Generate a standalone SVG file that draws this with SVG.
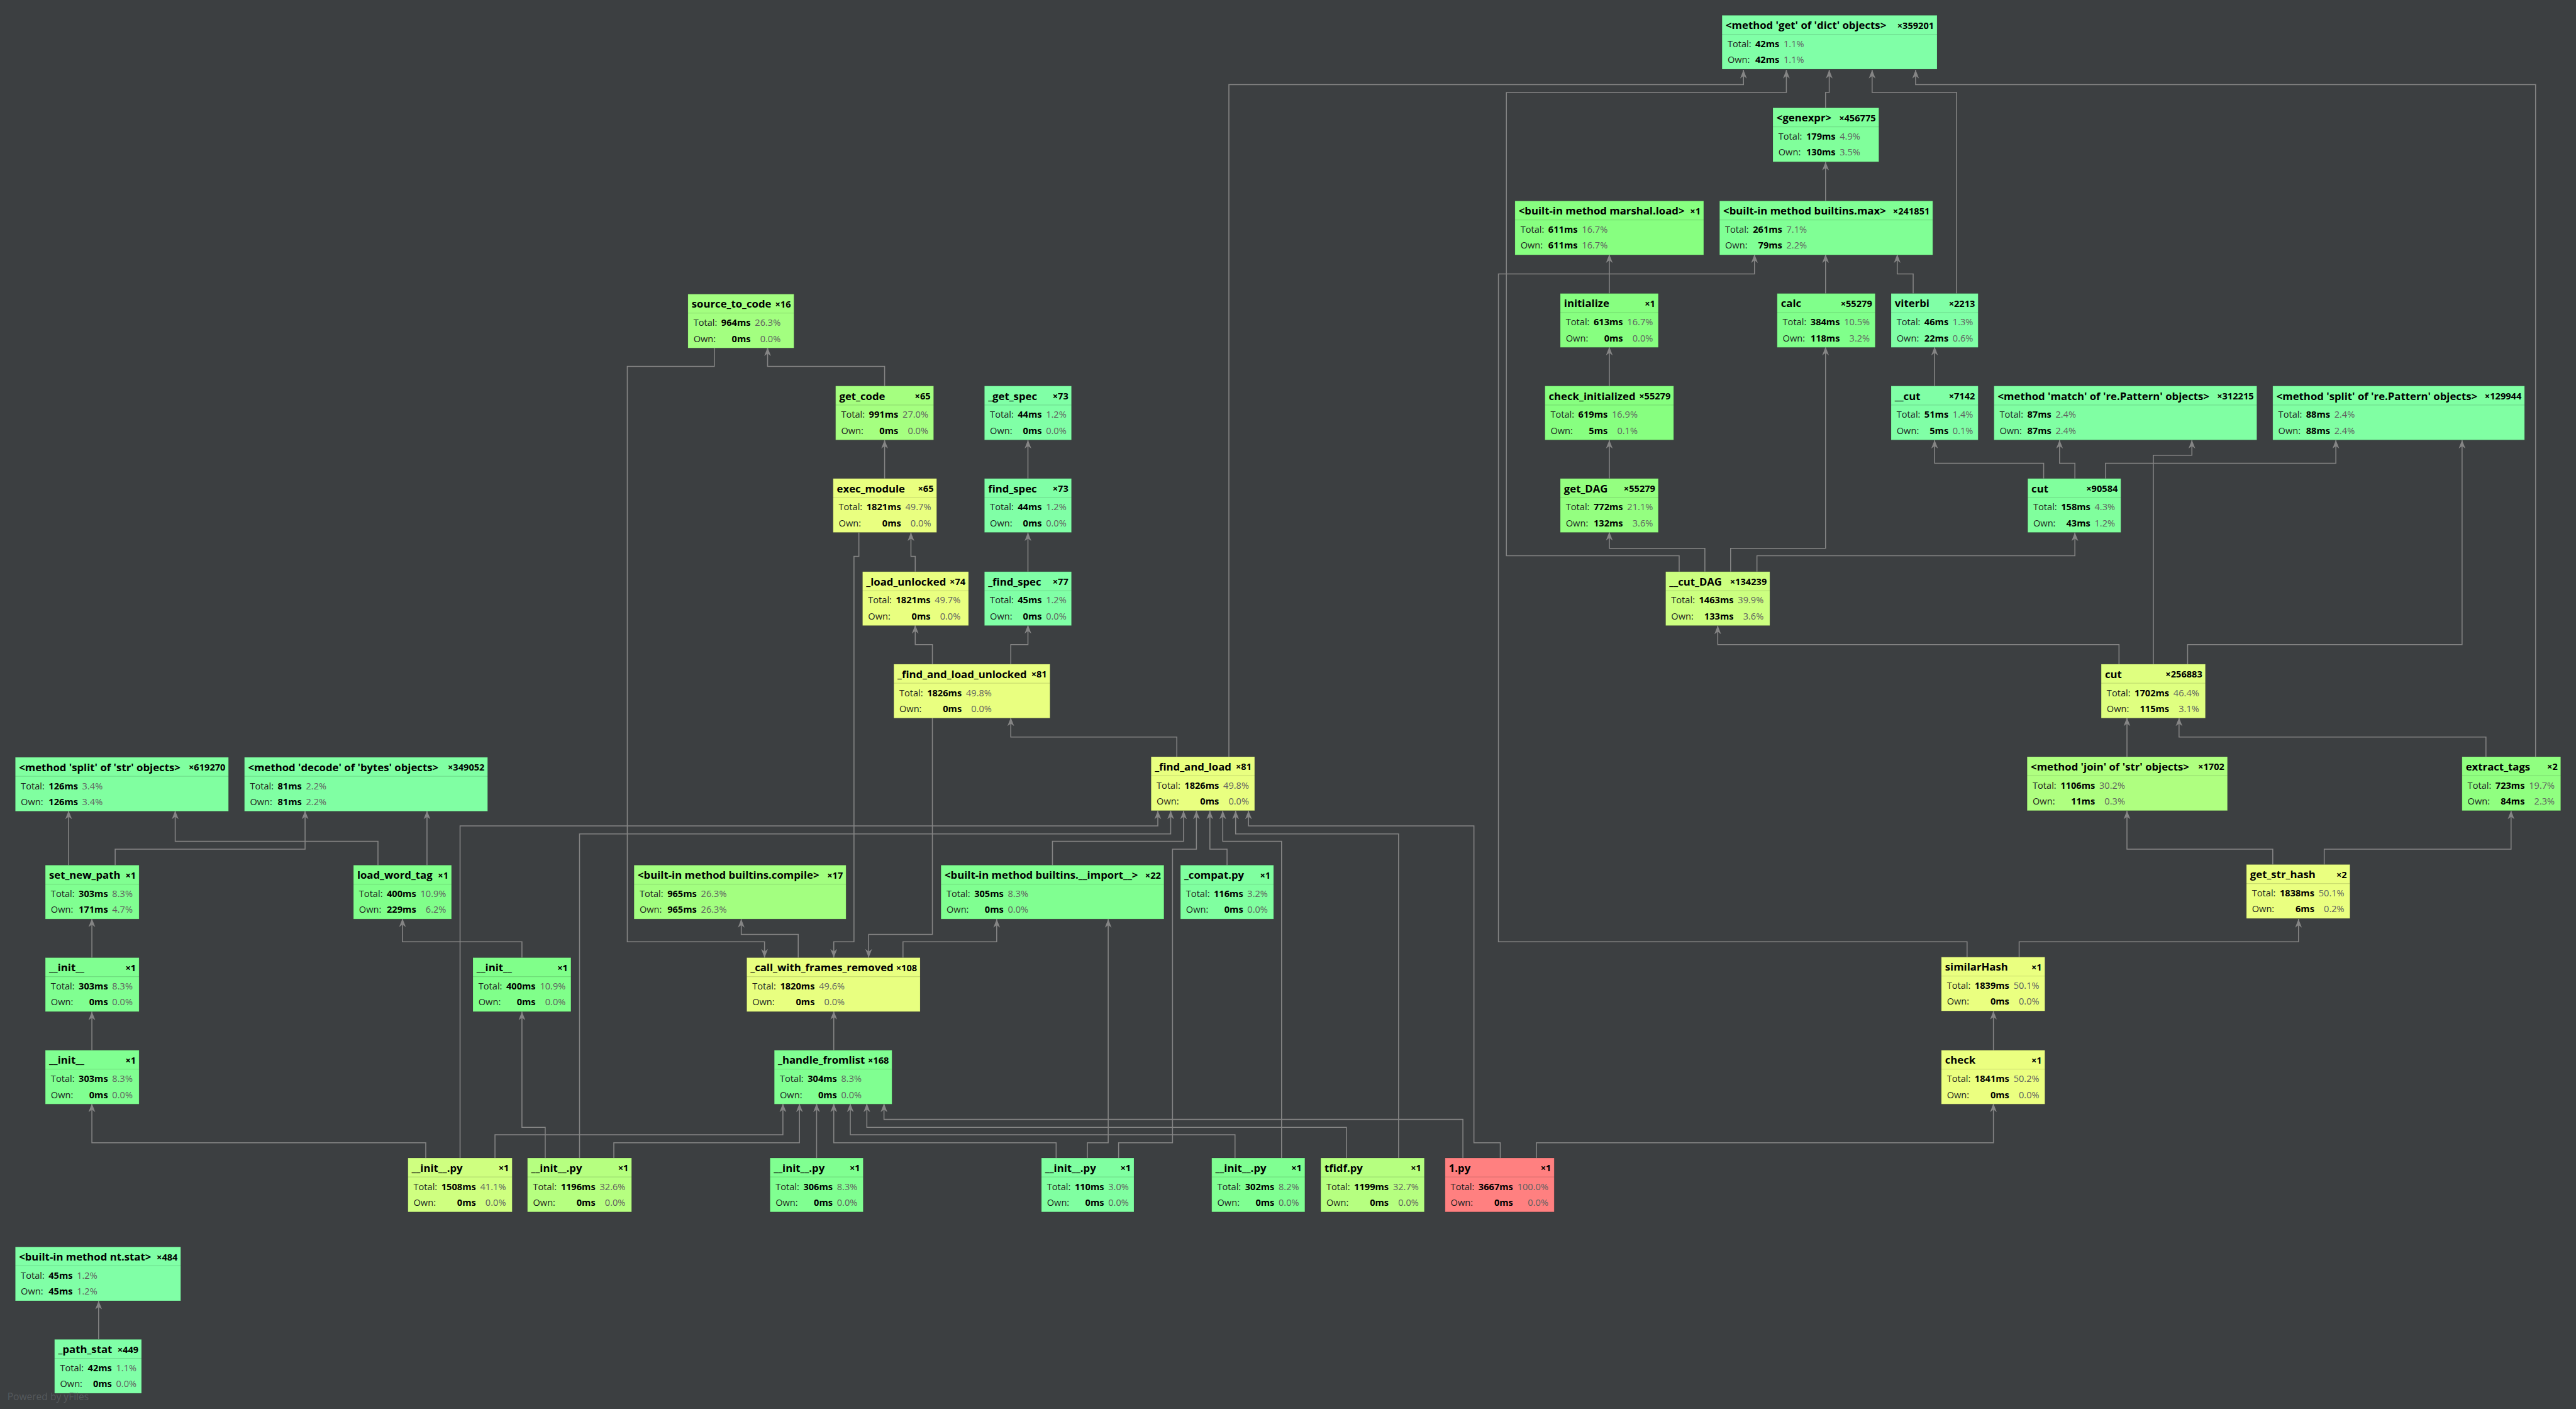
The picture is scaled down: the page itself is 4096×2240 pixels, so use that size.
<svg xmlns="http://www.w3.org/2000/svg" width="4096" height="2240" viewBox="0 0 4096 2240">
<defs>
<style>
.bg{fill:#3c3f41}
.e{fill:none;stroke:#858585;stroke-width:1.6;marker-end:url(#ah)}
.s{stroke:rgba(0,0,0,0.13);stroke-width:1.2;fill:none}
.nb{stroke:rgba(0,0,0,0.12);stroke-width:1}
text{font-family:"Open Sans","Noto Sans","Liberation Sans",sans-serif}
.t{font-size:17.2px;font-weight:bold;fill:#000}
.c{font-size:15px;font-weight:bold;fill:#000;text-anchor:end}
.l{font-size:15px;fill:#1e1e1e}
.v{font-size:15px;font-weight:bold;fill:#000;text-anchor:end}
.p{font-size:15px;fill:#606060;text-anchor:end}
.pw{font-size:16px;fill:#55595c}
</style>
<marker id="ah" markerWidth="16" markerHeight="12" viewBox="-15 -6 16 12" refX="0" refY="0" orient="auto" markerUnits="userSpaceOnUse"><path d="M0,0 L-14,-5.5 L-10,0 L-14,5.5 Z" fill="#858585"/></marker>
</defs>
<rect class="bg" x="0" y="0" width="4096" height="2240"/>
<g transform="scale(0.97408)">
<g id="connectors">
<path class="e" d="M1444,630 V598 H1253 V567"/>
<path class="e" d="M1166,567 V598 H1024 V1537 H1248 V1563"/>
<path class="e" d="M1444,781 V718"/>
<path class="e" d="M1494,933 V908 H1487 V869"/>
<path class="e" d="M1402,869 V908 H1394 V1537 H1361 V1563"/>
<path class="e" d="M1522,1084 V1052 H1494 V1020"/>
<path class="e" d="M1650,1084 V1052 H1678 V1020"/>
<path class="e" d="M1678,933 V869"/>
<path class="e" d="M1678,781 V718"/>
<path class="e" d="M1921,1235 V1203 H1650 V1171"/>
<path class="e" d="M1522,1171 V1525 H1418 V1563"/>
<path class="e" d="M2006,1235 V138 H2846 V114"/>
<path class="e" d="M751,1890 V1348 H1890 V1323"/>
<path class="e" d="M946,1890 V1361 H1911 V1323"/>
<path class="e" d="M1718,1412 V1373 H1932 V1323"/>
<path class="e" d="M1826,1890 V1865 H1914 V1386 H1953 V1323"/>
<path class="e" d="M2003,1412 V1386 H1975 V1323"/>
<path class="e" d="M2092,1890 V1373 H1996 V1323"/>
<path class="e" d="M2283,1890 V1361 H2017 V1323"/>
<path class="e" d="M2449,1890 V1865 H2406 V1348 H2038 V1323"/>
<path class="e" d="M2388,1890 V1827 H1443 V1801"/>
<path class="e" d="M2508,1890 V1865 H3254 V1801"/>
<path class="e" d="M2198,1890 V1840 H1415 V1801"/>
<path class="e" d="M2016,1890 V1852 H1388 V1801"/>
<path class="e" d="M1724,1890 V1865 H1361 V1801"/>
<path class="e" d="M1333,1890 V1801"/>
<path class="e" d="M1002,1890 V1865 H1305 V1801"/>
<path class="e" d="M808,1890 V1852 H1278 V1801"/>
<path class="e" d="M1775,1890 V1865 H1809 V1500"/>
<path class="e" d="M1361,1714 V1650"/>
<path class="e" d="M1303,1563 V1525 H1210 V1500"/>
<path class="e" d="M1474,1563 V1537 H1627 V1500"/>
<path class="e" d="M695,1890 V1865 H150 V1801"/>
<path class="e" d="M890,1890 V1840 H852 V1651"/>
<path class="e" d="M852,1563 V1537 H657 V1499"/>
<path class="e" d="M150,1714 V1651"/>
<path class="e" d="M150,1563 V1499"/>
<path class="e" d="M112,1412 V1323"/>
<path class="e" d="M188,1412 V1386 H498 V1323"/>
<path class="e" d="M617,1412 V1373 H286 V1323"/>
<path class="e" d="M697,1412 V1323"/>
<path class="e" d="M161,2186 V2123"/>
<path class="e" d="M2980,176 V151 H2986 V114"/>
<path class="e" d="M2980,328 V264"/>
<path class="e" d="M2627,479 V415"/>
<path class="e" d="M2980,479 V415"/>
<path class="e" d="M3123,479 V447 H3097 V415"/>
<path class="e" d="M3194,479 V151 H3056 V114"/>
<path class="e" d="M3158,630 V566"/>
<path class="e" d="M2627,630 V566"/>
<path class="e" d="M2627,781 V718"/>
<path class="e" d="M2783,933 V895 H2627 V868"/>
<path class="e" d="M2825,933 V895 H2980 V566"/>
<path class="e" d="M2741,933 V907 H2459 V151 H2916 V114"/>
<path class="e" d="M2868,933 V907 H3387 V869"/>
<path class="e" d="M3336,781 V756 H3158 V718"/>
<path class="e" d="M3387,781 V756 H3362 V718"/>
<path class="e" d="M3437,781 V756 H3813 V718"/>
<path class="e" d="M3459,1084 V1052 H2804 V1021"/>
<path class="e" d="M3515,1084 V743 H3578 V718"/>
<path class="e" d="M3571,1084 V1052 H4019 V718"/>
<path class="e" d="M4139,1235 V138 H3127 V114"/>
<path class="e" d="M3472,1235 V1171"/>
<path class="e" d="M4058,1235 V1203 H3557 V1171"/>
<path class="e" d="M3710,1411 V1386 H3472 V1323"/>
<path class="e" d="M3794,1411 V1386 H4099 V1323"/>
<path class="e" d="M3296,1562 V1537 H3752 V1500"/>
<path class="e" d="M3211,1562 V1537 H2446 V447 H2864 V415"/>
<path class="e" d="M3254,1714 V1650"/>
</g>

<g id="n_dict_get" transform="translate(2811,25)"><rect class="nb" width="351" height="88" fill="#80FFA7"/><path class="s" d="M0 31H351"/><text class="t" x="6" y="22.5">&lt;method 'get' of 'dict' objects&gt;</text><text class="c" x="346" y="22">×359201</text><text class="l" x="9" y="52">Total:</text><text class="v" x="93.6" y="52">42ms</text><text class="p" x="133.9" y="52">1.1%</text><text class="l" x="9" y="78">Own:</text><text class="v" x="93.6" y="78">42ms</text><text class="p" x="133.9" y="78">1.1%</text></g>

<g id="n_genexpr" transform="translate(2894,176)"><rect class="nb" width="173" height="88" fill="#80FF9B"/><path class="s" d="M0 31H173"/><text class="t" x="6" y="22.5">&lt;genexpr&gt;</text><text class="c" x="168" y="22">×456775</text><text class="l" x="9" y="52">Total:</text><text class="v" x="102.3" y="52">179ms</text><text class="p" x="142.6" y="52">4.9%</text><text class="l" x="9" y="78">Own:</text><text class="v" x="102.3" y="78">130ms</text><text class="p" x="142.6" y="78">3.5%</text></g>

<g id="n_marshal_load" transform="translate(2473,328)"><rect class="nb" width="308" height="88" fill="#87FF80"/><path class="s" d="M0 31H308"/><text class="t" x="6" y="22.5">&lt;built-in method marshal.load&gt;</text><text class="c" x="303" y="22">×1</text><text class="l" x="9" y="52">Total:</text><text class="v" x="102.3" y="52">611ms</text><text class="p" x="151.3" y="52">16.7%</text><text class="l" x="9" y="78">Own:</text><text class="v" x="102.3" y="78">611ms</text><text class="p" x="151.3" y="78">16.7%</text></g>

<g id="n_builtins_max" transform="translate(2807,328)"><rect class="nb" width="348" height="88" fill="#80FF95"/><path class="s" d="M0 31H348"/><text class="t" x="6" y="22.5">&lt;built-in method builtins.max&gt;</text><text class="c" x="343" y="22">×241851</text><text class="l" x="9" y="52">Total:</text><text class="v" x="102.3" y="52">261ms</text><text class="p" x="142.6" y="52">7.1%</text><text class="l" x="9" y="78">Own:</text><text class="v" x="102.3" y="78">79ms</text><text class="p" x="142.6" y="78">2.2%</text></g>

<g id="n_source_to_code" transform="translate(1123,480)"><rect class="nb" width="173" height="88" fill="#A3FF80"/><path class="s" d="M0 31H173"/><text class="t" x="6" y="22.5">source_to_code</text><text class="c" x="168" y="22">×16</text><text class="l" x="9" y="52">Total:</text><text class="v" x="102.3" y="52">964ms</text><text class="p" x="151.3" y="52">26.3%</text><text class="l" x="9" y="78">Own:</text><text class="v" x="102.3" y="78">0ms</text><text class="p" x="151.3" y="78">0.0%</text></g>

<g id="n_initialize" transform="translate(2547,479)"><rect class="nb" width="160" height="88" fill="#87FF80"/><path class="s" d="M0 31H160"/><text class="t" x="6" y="22.5">initialize</text><text class="c" x="155" y="22">×1</text><text class="l" x="9" y="52">Total:</text><text class="v" x="102.3" y="52">613ms</text><text class="p" x="151.3" y="52">16.7%</text><text class="l" x="9" y="78">Own:</text><text class="v" x="102.3" y="78">0ms</text><text class="p" x="151.3" y="78">0.0%</text></g>

<g id="n_calc" transform="translate(2901,479)"><rect class="nb" width="160" height="88" fill="#80FF8B"/><path class="s" d="M0 31H160"/><text class="t" x="6" y="22.5">calc</text><text class="c" x="155" y="22">×55279</text><text class="l" x="9" y="52">Total:</text><text class="v" x="102.3" y="52">384ms</text><text class="p" x="151.3" y="52">10.5%</text><text class="l" x="9" y="78">Own:</text><text class="v" x="102.3" y="78">118ms</text><text class="p" x="151.3" y="78">3.2%</text></g>

<g id="n_viterbi" transform="translate(3087,479)"><rect class="nb" width="142" height="88" fill="#80FFA6"/><path class="s" d="M0 31H142"/><text class="t" x="6" y="22.5">viterbi</text><text class="c" x="137" y="22">×2213</text><text class="l" x="9" y="52">Total:</text><text class="v" x="93.6" y="52">46ms</text><text class="p" x="133.9" y="52">1.3%</text><text class="l" x="9" y="78">Own:</text><text class="v" x="93.6" y="78">22ms</text><text class="p" x="133.9" y="78">0.6%</text></g>

<g id="n_get_code" transform="translate(1364,630)"><rect class="nb" width="160" height="88" fill="#A5FF80"/><path class="s" d="M0 31H160"/><text class="t" x="6" y="22.5">get_code</text><text class="c" x="155" y="22">×65</text><text class="l" x="9" y="52">Total:</text><text class="v" x="102.3" y="52">991ms</text><text class="p" x="151.3" y="52">27.0%</text><text class="l" x="9" y="78">Own:</text><text class="v" x="102.3" y="78">0ms</text><text class="p" x="151.3" y="78">0.0%</text></g>

<g id="n__get_spec" transform="translate(1607,630)"><rect class="nb" width="142" height="88" fill="#80FFA6"/><path class="s" d="M0 31H142"/><text class="t" x="6" y="22.5">_get_spec</text><text class="c" x="137" y="22">×73</text><text class="l" x="9" y="52">Total:</text><text class="v" x="93.6" y="52">44ms</text><text class="p" x="133.9" y="52">1.2%</text><text class="l" x="9" y="78">Own:</text><text class="v" x="93.6" y="78">0ms</text><text class="p" x="133.9" y="78">0.0%</text></g>

<g id="n_check_initialized" transform="translate(2522,630)"><rect class="nb" width="210" height="88" fill="#87FF80"/><path class="s" d="M0 31H210"/><text class="t" x="6" y="22.5">check_initialized</text><text class="c" x="205" y="22">×55279</text><text class="l" x="9" y="52">Total:</text><text class="v" x="102.3" y="52">619ms</text><text class="p" x="151.3" y="52">16.9%</text><text class="l" x="9" y="78">Own:</text><text class="v" x="102.3" y="78">5ms</text><text class="p" x="151.3" y="78">0.1%</text></g>

<g id="n___cut" transform="translate(3087,630)"><rect class="nb" width="142" height="88" fill="#80FFA6"/><path class="s" d="M0 31H142"/><text class="t" x="6" y="22.5">__cut</text><text class="c" x="137" y="22">×7142</text><text class="l" x="9" y="52">Total:</text><text class="v" x="93.6" y="52">51ms</text><text class="p" x="133.9" y="52">1.4%</text><text class="l" x="9" y="78">Own:</text><text class="v" x="93.6" y="78">5ms</text><text class="p" x="133.9" y="78">0.1%</text></g>

<g id="n_match" transform="translate(3255,630)"><rect class="nb" width="429" height="88" fill="#80FFA3"/><path class="s" d="M0 31H429"/><text class="t" x="6" y="22.5">&lt;method 'match' of 're.Pattern' objects&gt;</text><text class="c" x="424" y="22">×312215</text><text class="l" x="9" y="52">Total:</text><text class="v" x="93.6" y="52">87ms</text><text class="p" x="133.9" y="52">2.4%</text><text class="l" x="9" y="78">Own:</text><text class="v" x="93.6" y="78">87ms</text><text class="p" x="133.9" y="78">2.4%</text></g>

<g id="n_split_re" transform="translate(3710,630)"><rect class="nb" width="411" height="88" fill="#80FFA3"/><path class="s" d="M0 31H411"/><text class="t" x="6" y="22.5">&lt;method 'split' of 're.Pattern' objects&gt;</text><text class="c" x="406" y="22">×129944</text><text class="l" x="9" y="52">Total:</text><text class="v" x="93.6" y="52">88ms</text><text class="p" x="133.9" y="52">2.4%</text><text class="l" x="9" y="78">Own:</text><text class="v" x="93.6" y="78">88ms</text><text class="p" x="133.9" y="78">2.4%</text></g>

<g id="n_exec_module" transform="translate(1360,781)"><rect class="nb" width="169" height="88" fill="#E9FF80"/><path class="s" d="M0 31H169"/><text class="t" x="6" y="22.5">exec_module</text><text class="c" x="164" y="22">×65</text><text class="l" x="9" y="52">Total:</text><text class="v" x="110.9" y="52">1821ms</text><text class="p" x="159.9" y="52">49.7%</text><text class="l" x="9" y="78">Own:</text><text class="v" x="110.9" y="78">0ms</text><text class="p" x="159.9" y="78">0.0%</text></g>

<g id="n_find_spec" transform="translate(1607,781)"><rect class="nb" width="142" height="88" fill="#80FFA6"/><path class="s" d="M0 31H142"/><text class="t" x="6" y="22.5">find_spec</text><text class="c" x="137" y="22">×73</text><text class="l" x="9" y="52">Total:</text><text class="v" x="93.6" y="52">44ms</text><text class="p" x="133.9" y="52">1.2%</text><text class="l" x="9" y="78">Own:</text><text class="v" x="93.6" y="78">0ms</text><text class="p" x="133.9" y="78">0.0%</text></g>

<g id="n_get_DAG" transform="translate(2547,781)"><rect class="nb" width="160" height="88" fill="#94FF80"/><path class="s" d="M0 31H160"/><text class="t" x="6" y="22.5">get_DAG</text><text class="c" x="155" y="22">×55279</text><text class="l" x="9" y="52">Total:</text><text class="v" x="102.3" y="52">772ms</text><text class="p" x="151.3" y="52">21.1%</text><text class="l" x="9" y="78">Own:</text><text class="v" x="102.3" y="78">132ms</text><text class="p" x="151.3" y="78">3.6%</text></g>

<g id="n_cut_90584" transform="translate(3310,781)"><rect class="nb" width="152" height="88" fill="#80FF9D"/><path class="s" d="M0 31H152"/><text class="t" x="6" y="22.5">cut</text><text class="c" x="147" y="22">×90584</text><text class="l" x="9" y="52">Total:</text><text class="v" x="102.3" y="52">158ms</text><text class="p" x="142.6" y="52">4.3%</text><text class="l" x="9" y="78">Own:</text><text class="v" x="102.3" y="78">43ms</text><text class="p" x="142.6" y="78">1.2%</text></g>

<g id="n__load_unlocked" transform="translate(1408,933)"><rect class="nb" width="173" height="88" fill="#E9FF80"/><path class="s" d="M0 31H173"/><text class="t" x="6" y="22.5">_load_unlocked</text><text class="c" x="168" y="22">×74</text><text class="l" x="9" y="52">Total:</text><text class="v" x="110.9" y="52">1821ms</text><text class="p" x="159.9" y="52">49.7%</text><text class="l" x="9" y="78">Own:</text><text class="v" x="110.9" y="78">0ms</text><text class="p" x="159.9" y="78">0.0%</text></g>

<g id="n__find_spec" transform="translate(1607,933)"><rect class="nb" width="142" height="88" fill="#80FFA6"/><path class="s" d="M0 31H142"/><text class="t" x="6" y="22.5">_find_spec</text><text class="c" x="137" y="22">×77</text><text class="l" x="9" y="52">Total:</text><text class="v" x="93.6" y="52">45ms</text><text class="p" x="133.9" y="52">1.2%</text><text class="l" x="9" y="78">Own:</text><text class="v" x="93.6" y="78">0ms</text><text class="p" x="133.9" y="78">0.0%</text></g>

<g id="n___cut_DAG" transform="translate(2719,933)"><rect class="nb" width="170" height="88" fill="#CCFF80"/><path class="s" d="M0 31H170"/><text class="t" x="6" y="22.5">__cut_DAG</text><text class="c" x="165" y="22">×134239</text><text class="l" x="9" y="52">Total:</text><text class="v" x="110.9" y="52">1463ms</text><text class="p" x="159.9" y="52">39.9%</text><text class="l" x="9" y="78">Own:</text><text class="v" x="110.9" y="78">133ms</text><text class="p" x="159.9" y="78">3.6%</text></g>

<g id="n__find_and_load_unlocked" transform="translate(1459,1084)"><rect class="nb" width="255" height="88" fill="#E9FF80"/><path class="s" d="M0 31H255"/><text class="t" x="6" y="22.5">_find_and_load_unlocked</text><text class="c" x="250" y="22">×81</text><text class="l" x="9" y="52">Total:</text><text class="v" x="110.9" y="52">1826ms</text><text class="p" x="159.9" y="52">49.8%</text><text class="l" x="9" y="78">Own:</text><text class="v" x="110.9" y="78">0ms</text><text class="p" x="159.9" y="78">0.0%</text></g>

<g id="n_cut_256883" transform="translate(3430,1084)"><rect class="nb" width="170" height="88" fill="#DFFF80"/><path class="s" d="M0 31H170"/><text class="t" x="6" y="22.5">cut</text><text class="c" x="165" y="22">×256883</text><text class="l" x="9" y="52">Total:</text><text class="v" x="110.9" y="52">1702ms</text><text class="p" x="159.9" y="52">46.4%</text><text class="l" x="9" y="78">Own:</text><text class="v" x="110.9" y="78">115ms</text><text class="p" x="159.9" y="78">3.1%</text></g>

<g id="n__find_and_load" transform="translate(1879,1235)"><rect class="nb" width="169" height="88" fill="#E9FF80"/><path class="s" d="M0 31H169"/><text class="t" x="6" y="22.5">_find_and_load</text><text class="c" x="164" y="22">×81</text><text class="l" x="9" y="52">Total:</text><text class="v" x="110.9" y="52">1826ms</text><text class="p" x="159.9" y="52">49.8%</text><text class="l" x="9" y="78">Own:</text><text class="v" x="110.9" y="78">0ms</text><text class="p" x="159.9" y="78">0.0%</text></g>

<g id="n_split_str" transform="translate(25,1236)"><rect class="nb" width="348" height="88" fill="#80FFA0"/><path class="s" d="M0 31H348"/><text class="t" x="6" y="22.5">&lt;method 'split' of 'str' objects&gt;</text><text class="c" x="343" y="22">×619270</text><text class="l" x="9" y="52">Total:</text><text class="v" x="102.3" y="52">126ms</text><text class="p" x="142.6" y="52">3.4%</text><text class="l" x="9" y="78">Own:</text><text class="v" x="102.3" y="78">126ms</text><text class="p" x="142.6" y="78">3.4%</text></g>

<g id="n_decode" transform="translate(399,1236)"><rect class="nb" width="397" height="88" fill="#80FFA3"/><path class="s" d="M0 31H397"/><text class="t" x="6" y="22.5">&lt;method 'decode' of 'bytes' objects&gt;</text><text class="c" x="392" y="22">×349052</text><text class="l" x="9" y="52">Total:</text><text class="v" x="93.6" y="52">81ms</text><text class="p" x="133.9" y="52">2.2%</text><text class="l" x="9" y="78">Own:</text><text class="v" x="93.6" y="78">81ms</text><text class="p" x="133.9" y="78">2.2%</text></g>

<g id="n_join" transform="translate(3309,1235)"><rect class="nb" width="327" height="88" fill="#AFFF80"/><path class="s" d="M0 31H327"/><text class="t" x="6" y="22.5">&lt;method 'join' of 'str' objects&gt;</text><text class="c" x="322" y="22">×1702</text><text class="l" x="9" y="52">Total:</text><text class="v" x="110.9" y="52">1106ms</text><text class="p" x="159.9" y="52">30.2%</text><text class="l" x="9" y="78">Own:</text><text class="v" x="110.9" y="78">11ms</text><text class="p" x="159.9" y="78">0.3%</text></g>

<g id="n_extract_tags" transform="translate(4019,1235)"><rect class="nb" width="161" height="88" fill="#90FF80"/><path class="s" d="M0 31H161"/><text class="t" x="6" y="22.5">extract_tags</text><text class="c" x="156" y="22">×2</text><text class="l" x="9" y="52">Total:</text><text class="v" x="102.3" y="52">723ms</text><text class="p" x="151.3" y="52">19.7%</text><text class="l" x="9" y="78">Own:</text><text class="v" x="102.3" y="78">84ms</text><text class="p" x="151.3" y="78">2.3%</text></g>

<g id="n_set_new_path" transform="translate(74,1412)"><rect class="nb" width="153" height="88" fill="#80FF91"/><path class="s" d="M0 31H153"/><text class="t" x="6" y="22.5">set_new_path</text><text class="c" x="148" y="22">×1</text><text class="l" x="9" y="52">Total:</text><text class="v" x="102.3" y="52">303ms</text><text class="p" x="142.6" y="52">8.3%</text><text class="l" x="9" y="78">Own:</text><text class="v" x="102.3" y="78">171ms</text><text class="p" x="142.6" y="78">4.7%</text></g>

<g id="n_load_word_tag" transform="translate(577,1412)"><rect class="nb" width="160" height="88" fill="#80FF8A"/><path class="s" d="M0 31H160"/><text class="t" x="6" y="22.5">load_word_tag</text><text class="c" x="155" y="22">×1</text><text class="l" x="9" y="52">Total:</text><text class="v" x="102.3" y="52">400ms</text><text class="p" x="151.3" y="52">10.9%</text><text class="l" x="9" y="78">Own:</text><text class="v" x="102.3" y="78">229ms</text><text class="p" x="151.3" y="78">6.2%</text></g>

<g id="n_builtins_compile" transform="translate(1035,1412)"><rect class="nb" width="346" height="88" fill="#A3FF80"/><path class="s" d="M0 31H346"/><text class="t" x="6" y="22.5">&lt;built-in method builtins.compile&gt;</text><text class="c" x="341" y="22">×17</text><text class="l" x="9" y="52">Total:</text><text class="v" x="102.3" y="52">965ms</text><text class="p" x="151.3" y="52">26.3%</text><text class="l" x="9" y="78">Own:</text><text class="v" x="102.3" y="78">965ms</text><text class="p" x="151.3" y="78">26.3%</text></g>

<g id="n_builtins_import" transform="translate(1536,1412)"><rect class="nb" width="364" height="88" fill="#80FF91"/><path class="s" d="M0 31H364"/><text class="t" x="6" y="22.5">&lt;built-in method builtins.__import__&gt;</text><text class="c" x="359" y="22">×22</text><text class="l" x="9" y="52">Total:</text><text class="v" x="102.3" y="52">305ms</text><text class="p" x="142.6" y="52">8.3%</text><text class="l" x="9" y="78">Own:</text><text class="v" x="102.3" y="78">0ms</text><text class="p" x="142.6" y="78">0.0%</text></g>

<g id="n__compat_py" transform="translate(1927,1412)"><rect class="nb" width="152" height="88" fill="#80FFA0"/><path class="s" d="M0 31H152"/><text class="t" x="6" y="22.5">_compat.py</text><text class="c" x="147" y="22">×1</text><text class="l" x="9" y="52">Total:</text><text class="v" x="102.3" y="52">116ms</text><text class="p" x="142.6" y="52">3.2%</text><text class="l" x="9" y="78">Own:</text><text class="v" x="102.3" y="78">0ms</text><text class="p" x="142.6" y="78">0.0%</text></g>

<g id="n_get_str_hash" transform="translate(3667,1411)"><rect class="nb" width="169" height="88" fill="#EAFF80"/><path class="s" d="M0 31H169"/><text class="t" x="6" y="22.5">get_str_hash</text><text class="c" x="164" y="22">×2</text><text class="l" x="9" y="52">Total:</text><text class="v" x="110.9" y="52">1838ms</text><text class="p" x="159.9" y="52">50.1%</text><text class="l" x="9" y="78">Own:</text><text class="v" x="110.9" y="78">6ms</text><text class="p" x="159.9" y="78">0.2%</text></g>

<g id="n___init___a" transform="translate(74,1563)"><rect class="nb" width="153" height="88" fill="#80FF91"/><path class="s" d="M0 31H153"/><text class="t" x="6" y="22.5">__init__</text><text class="c" x="148" y="22">×1</text><text class="l" x="9" y="52">Total:</text><text class="v" x="102.3" y="52">303ms</text><text class="p" x="142.6" y="52">8.3%</text><text class="l" x="9" y="78">Own:</text><text class="v" x="102.3" y="78">0ms</text><text class="p" x="142.6" y="78">0.0%</text></g>

<g id="n___init___b" transform="translate(772,1563)"><rect class="nb" width="160" height="88" fill="#80FF8A"/><path class="s" d="M0 31H160"/><text class="t" x="6" y="22.5">__init__</text><text class="c" x="155" y="22">×1</text><text class="l" x="9" y="52">Total:</text><text class="v" x="102.3" y="52">400ms</text><text class="p" x="151.3" y="52">10.9%</text><text class="l" x="9" y="78">Own:</text><text class="v" x="102.3" y="78">0ms</text><text class="p" x="151.3" y="78">0.0%</text></g>

<g id="n__call_with_frames_removed" transform="translate(1219,1563)"><rect class="nb" width="283" height="88" fill="#E8FF80"/><path class="s" d="M0 31H283"/><text class="t" x="6" y="22.5">_call_with_frames_removed</text><text class="c" x="278" y="22">×108</text><text class="l" x="9" y="52">Total:</text><text class="v" x="110.9" y="52">1820ms</text><text class="p" x="159.9" y="52">49.6%</text><text class="l" x="9" y="78">Own:</text><text class="v" x="110.9" y="78">0ms</text><text class="p" x="159.9" y="78">0.0%</text></g>

<g id="n_similarHash" transform="translate(3169,1562)"><rect class="nb" width="169" height="88" fill="#EAFF80"/><path class="s" d="M0 31H169"/><text class="t" x="6" y="22.5">similarHash</text><text class="c" x="164" y="22">×1</text><text class="l" x="9" y="52">Total:</text><text class="v" x="110.9" y="52">1839ms</text><text class="p" x="159.9" y="52">50.1%</text><text class="l" x="9" y="78">Own:</text><text class="v" x="110.9" y="78">0ms</text><text class="p" x="159.9" y="78">0.0%</text></g>

<g id="n___init___c" transform="translate(74,1714)"><rect class="nb" width="153" height="88" fill="#80FF91"/><path class="s" d="M0 31H153"/><text class="t" x="6" y="22.5">__init__</text><text class="c" x="148" y="22">×1</text><text class="l" x="9" y="52">Total:</text><text class="v" x="102.3" y="52">303ms</text><text class="p" x="142.6" y="52">8.3%</text><text class="l" x="9" y="78">Own:</text><text class="v" x="102.3" y="78">0ms</text><text class="p" x="142.6" y="78">0.0%</text></g>

<g id="n__handle_fromlist" transform="translate(1264,1714)"><rect class="nb" width="192" height="88" fill="#80FF91"/><path class="s" d="M0 31H192"/><text class="t" x="6" y="22.5">_handle_fromlist</text><text class="c" x="187" y="22">×168</text><text class="l" x="9" y="52">Total:</text><text class="v" x="102.3" y="52">304ms</text><text class="p" x="142.6" y="52">8.3%</text><text class="l" x="9" y="78">Own:</text><text class="v" x="102.3" y="78">0ms</text><text class="p" x="142.6" y="78">0.0%</text></g>

<g id="n_check" transform="translate(3169,1714)"><rect class="nb" width="169" height="88" fill="#EBFF80"/><path class="s" d="M0 31H169"/><text class="t" x="6" y="22.5">check</text><text class="c" x="164" y="22">×1</text><text class="l" x="9" y="52">Total:</text><text class="v" x="110.9" y="52">1841ms</text><text class="p" x="159.9" y="52">50.2%</text><text class="l" x="9" y="78">Own:</text><text class="v" x="110.9" y="78">0ms</text><text class="p" x="159.9" y="78">0.0%</text></g>

<g id="n_init_py_1508" transform="translate(666,1890)"><rect class="nb" width="170" height="88" fill="#CFFF80"/><path class="s" d="M0 31H170"/><text class="t" x="6" y="22.5">__init__.py</text><text class="c" x="165" y="22">×1</text><text class="l" x="9" y="52">Total:</text><text class="v" x="110.9" y="52">1508ms</text><text class="p" x="159.9" y="52">41.1%</text><text class="l" x="9" y="78">Own:</text><text class="v" x="110.9" y="78">0ms</text><text class="p" x="159.9" y="78">0.0%</text></g>

<g id="n_init_py_1196" transform="translate(861,1890)"><rect class="nb" width="170" height="88" fill="#B6FF80"/><path class="s" d="M0 31H170"/><text class="t" x="6" y="22.5">__init__.py</text><text class="c" x="165" y="22">×1</text><text class="l" x="9" y="52">Total:</text><text class="v" x="110.9" y="52">1196ms</text><text class="p" x="159.9" y="52">32.6%</text><text class="l" x="9" y="78">Own:</text><text class="v" x="110.9" y="78">0ms</text><text class="p" x="159.9" y="78">0.0%</text></g>

<g id="n_init_py_306" transform="translate(1257,1890)"><rect class="nb" width="152" height="88" fill="#80FF91"/><path class="s" d="M0 31H152"/><text class="t" x="6" y="22.5">__init__.py</text><text class="c" x="147" y="22">×1</text><text class="l" x="9" y="52">Total:</text><text class="v" x="102.3" y="52">306ms</text><text class="p" x="142.6" y="52">8.3%</text><text class="l" x="9" y="78">Own:</text><text class="v" x="102.3" y="78">0ms</text><text class="p" x="142.6" y="78">0.0%</text></g>

<g id="n_init_py_110" transform="translate(1700,1890)"><rect class="nb" width="151" height="88" fill="#80FFA1"/><path class="s" d="M0 31H151"/><text class="t" x="6" y="22.5">__init__.py</text><text class="c" x="146" y="22">×1</text><text class="l" x="9" y="52">Total:</text><text class="v" x="102.3" y="52">110ms</text><text class="p" x="142.6" y="52">3.0%</text><text class="l" x="9" y="78">Own:</text><text class="v" x="102.3" y="78">0ms</text><text class="p" x="142.6" y="78">0.0%</text></g>

<g id="n_init_py_302" transform="translate(1978,1890)"><rect class="nb" width="152" height="88" fill="#80FF92"/><path class="s" d="M0 31H152"/><text class="t" x="6" y="22.5">__init__.py</text><text class="c" x="147" y="22">×1</text><text class="l" x="9" y="52">Total:</text><text class="v" x="102.3" y="52">302ms</text><text class="p" x="142.6" y="52">8.2%</text><text class="l" x="9" y="78">Own:</text><text class="v" x="102.3" y="78">0ms</text><text class="p" x="142.6" y="78">0.0%</text></g>

<g id="n_tfidf_py" transform="translate(2156,1890)"><rect class="nb" width="169" height="88" fill="#B6FF80"/><path class="s" d="M0 31H169"/><text class="t" x="6" y="22.5">tfidf.py</text><text class="c" x="164" y="22">×1</text><text class="l" x="9" y="52">Total:</text><text class="v" x="110.9" y="52">1199ms</text><text class="p" x="159.9" y="52">32.7%</text><text class="l" x="9" y="78">Own:</text><text class="v" x="110.9" y="78">0ms</text><text class="p" x="159.9" y="78">0.0%</text></g>

<g id="n_1_py" transform="translate(2359,1890)"><rect class="nb" width="178" height="88" fill="#FF8080"/><path class="s" d="M0 31H178"/><text class="t" x="6" y="22.5">1.py</text><text class="c" x="173" y="22">×1</text><text class="l" x="9" y="52">Total:</text><text class="v" x="110.9" y="52">3667ms</text><text class="p" x="168.5" y="52">100.0%</text><text class="l" x="9" y="78">Own:</text><text class="v" x="110.9" y="78">0ms</text><text class="p" x="168.5" y="78">0.0%</text></g>

<g id="n_nt_stat" transform="translate(25,2035)"><rect class="nb" width="270" height="88" fill="#80FFA6"/><path class="s" d="M0 31H270"/><text class="t" x="6" y="22.5">&lt;built-in method nt.stat&gt;</text><text class="c" x="265" y="22">×484</text><text class="l" x="9" y="52">Total:</text><text class="v" x="93.6" y="52">45ms</text><text class="p" x="133.9" y="52">1.2%</text><text class="l" x="9" y="78">Own:</text><text class="v" x="93.6" y="78">45ms</text><text class="p" x="133.9" y="78">1.2%</text></g>

<g id="n__path_stat" transform="translate(89,2186)"><rect class="nb" width="142" height="88" fill="#80FFA7"/><path class="s" d="M0 31H142"/><text class="t" x="6" y="22.5">_path_stat</text><text class="c" x="137" y="22">×449</text><text class="l" x="9" y="52">Total:</text><text class="v" x="93.6" y="52">42ms</text><text class="p" x="133.9" y="52">1.1%</text><text class="l" x="9" y="78">Own:</text><text class="v" x="93.6" y="78">0ms</text><text class="p" x="133.9" y="78">0.0%</text></g>

<text class="pw" x="12" y="2285">Powered by yFiles</text>
</g>
</svg>
